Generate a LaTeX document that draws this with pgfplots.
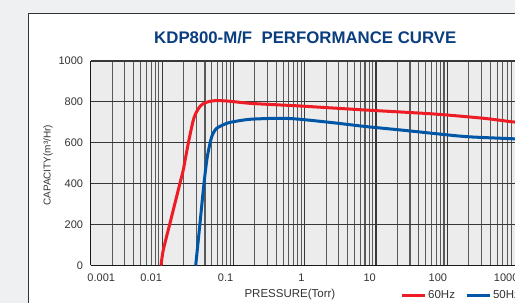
\documentclass[border=0pt]{standalone}
\usepackage{pgfplots}
\pgfplotsset{compat=1.18}
\usepackage{fontspec}
\setmainfont{Liberation Sans}
\definecolor{outerbg}{HTML}{EFF0F2}
\definecolor{plotbg}{HTML}{ECECEC}
\definecolor{titleblue}{HTML}{0B3E7F}
\definecolor{cred}{HTML}{EE1C25}
\definecolor{cblue}{HTML}{0056A6}
\definecolor{txt}{HTML}{333333}
\begin{document}
\begin{tikzpicture}
\path[use as bounding box] (0pt,0pt) rectangle (515pt,303pt);
\clip (0pt,0pt) rectangle (515pt,303pt);
\fill[outerbg] (0pt,0pt) rectangle (515pt,303pt);
\draw[fill=white, draw=black!80, line width=1pt] (28.3pt,-10pt) rectangle (560pt,289pt);
\begin{axis}[
  at={(90.8pt,37.5pt)}, anchor=south west,
  scale only axis, width=499.1pt, height=204.5pt,
  xmode=log, xmin=1e-3, xmax=1e4, ymin=0, ymax=1000,
  axis background/.style={fill=plotbg},
  axis lines*=left,
  axis line style={black!90, line width=1.3pt},
  xtick={0.01,0.1,1,10,100,1000},
  xticklabels={0.01,0.1,1,10,100,1000},
  extra x ticks={0.001},
  extra x tick labels={0.001},
  extra x tick style={grid=none, xticklabel style={anchor=north west, xshift=-3.5pt}},
  minor xtick={0.002,0.003,0.004,0.005,0.006,0.007,0.008,0.009,
    0.02,0.03,0.04,0.05,0.06,0.07,0.08,0.09,
    0.2,0.3,0.4,0.5,0.6,0.7,0.8,0.9,
    2,3,4,5,6,7,8,9,20,30,40,50,60,70,80,90,
    200,300,400,500,600,700,800,900,2000,3000,4000,5000,6000,7000,8000,9000},
  ytick={0,200,400,600,800,1000},
  yticklabels={0,200,400,600,800,1000},
  xmajorgrids, xminorgrids, ymajorgrids,
  major grid style={black!78, line width=1.1pt},
  minor grid style={black!65, line width=1.1pt},
  major tick length=0pt, minor tick length=0pt,
  xticklabel style={anchor=north east, inner xsep=0pt, yshift=-4.5pt, font=\fontsize{11}{13}\selectfont, text=txt},
  yticklabel style={anchor=east, inner xsep=0pt, xshift=-7.5pt, font=\fontsize{11}{13}\selectfont, text=txt},
  xlabel={PRESSURE(Torr)},
  xlabel style={at={(axis description cs:0.399,-0.1443)}, anchor=center, font=\fontsize{11.5}{13}\selectfont, text=txt},
  ylabel={CAPACITY(m³/Hr)},
  ylabel style={at={(axis description cs:-0.0858,0.49)}, anchor=center, font=\fontsize{10}{12}\selectfont, text=txt},
  title={KDP800-M/F\ \ PERFORMANCE CURVE},
  title style={at={(axis description cs:0.4298,1.083)}, anchor=center, font=\fontsize{16.8}{19}\selectfont\bfseries, text=titleblue},
  legend columns=2,
  legend style={at={(axis description cs:0.6195,-0.1443)}, anchor=west, draw=none, fill=none,
    inner sep=0pt, font=\fontsize{11.5}{13}\selectfont, text=txt,
    /tikz/every even column/.append style={column sep=8pt}},
  legend image code/.code={\draw[#1, line width=3pt] (0pt,0pt) -- (23pt,0pt);},
]
\addplot[cred, line width=3pt, smooth, tension=0.45] coordinates {
(0.00965,0) (0.0104,76) (0.0129,207) (0.0178,402) (0.0198,467) (0.0233,598)
(0.0274,711) (0.0305,752) (0.034,778) (0.039,794) (0.046,802) (0.055,806)
(0.065,806) (0.09,803) (0.171,793) (0.45,785) (0.86,780) (7.4,760)
(64,741) (320,720) (800,703) (1500,695)
};
\addlegendentry{60Hz}
\addplot[cblue, line width=3pt, smooth, tension=0.45] coordinates {
(0.0296,0) (0.034,206) (0.0387,402) (0.0431,532) (0.0497,630) (0.0584,671)
(0.0805,695) (0.1,703) (0.171,715) (0.45,720) (0.86,715) (2.52,698)
(7.41,679) (21.7,663) (63.6,646) (187,630) (800,620) (1500,616)
};
\addlegendentry{50Hz}
\end{axis}
\end{tikzpicture}
\end{document}
